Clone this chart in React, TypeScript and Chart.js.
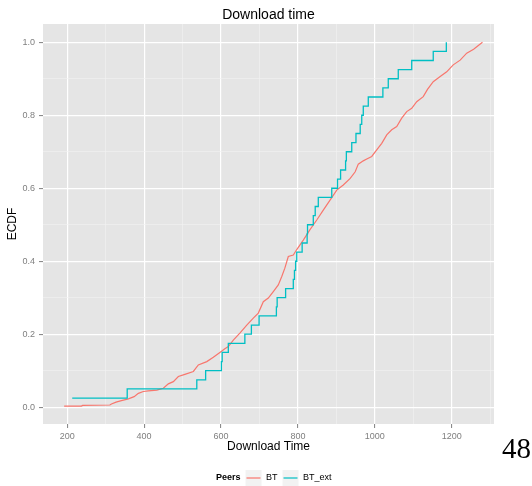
import React, { useEffect, useRef } from "react";
import { Chart, registerables } from "chart.js";

Chart.register(...registerables);

const TITLE = "Download time";
const X_TITLE = "Download Time";
const Y_TITLE = "ECDF";
const LEGEND_TITLE = "Peers";
const SERIES_NAMES = ["BT", "BT_ext"];
const SERIES_COLORS = ["#F8766D", "#00BFC4"];
const PAGE_NUMBER = "48";

const X_TICKS = [200, 300, 400, 500, 600, 700, 800, 900, 1000, 1100, 1200, 1300];
const Y_TICKS = [0, 0.1, 0.2, 0.3, 0.4, 0.5, 0.6, 0.7, 0.8, 0.9, 1.0];

// BT
const BT_TIME = [
  192, 237, 240, 311, 315, 327, 341, 359, 374, 385, 398, 411, 433, 450, 463, 476,
  489, 506, 528, 541, 563, 580, 597, 610, 619, 632, 649, 667, 684, 697, 710, 723,
  736, 749, 758, 766, 775, 788, 797, 814, 831, 849, 866, 884, 901, 918, 936, 949,
  957, 970, 979, 992, 1005, 1018, 1031, 1044, 1057, 1070, 1083, 1096, 1109, 1126,
  1137, 1152, 1170, 1187, 1196, 1204, 1222, 1239, 1257, 1280,
];
const BT_ECDF = [
  0.003, 0.003, 0.005, 0.006, 0.009, 0.014, 0.018, 0.023, 0.029, 0.038, 0.043, 0.045,
  0.047, 0.052, 0.064, 0.07, 0.084, 0.09, 0.098, 0.116, 0.125, 0.137, 0.15, 0.16,
  0.166, 0.184, 0.203, 0.225, 0.244, 0.258, 0.289, 0.299, 0.317, 0.335, 0.358, 0.381,
  0.413, 0.417, 0.432, 0.458, 0.486, 0.513, 0.54, 0.568, 0.595, 0.609, 0.627, 0.645,
  0.666, 0.675, 0.68, 0.687, 0.705, 0.723, 0.746, 0.76, 0.769, 0.792, 0.81, 0.819,
  0.837, 0.851, 0.871, 0.892, 0.906, 0.919, 0.929, 0.938, 0.951, 0.97, 0.981, 1.0,
];

// BT_ext (40 observations)
const EXT_TIME = [
  213, 356, 537, 560, 601, 603, 619, 662, 679, 699, 744, 746, 768, 788, 791, 794,
  797, 811, 824, 825, 840, 845, 853, 888, 903, 911, 924, 926, 940, 951, 962, 966,
  970, 983, 1021, 1035, 1061, 1096, 1152, 1186,
];
const EXT_ECDF = [
  0.025, 0.05, 0.075, 0.1, 0.125, 0.15, 0.175, 0.2, 0.225, 0.25, 0.275, 0.3, 0.325,
  0.35, 0.375, 0.4, 0.425, 0.45, 0.475, 0.5, 0.525, 0.55, 0.575, 0.6, 0.625, 0.65,
  0.675, 0.7, 0.725, 0.75, 0.775, 0.8, 0.825, 0.85, 0.875, 0.9, 0.925, 0.95, 0.975, 1.0,
];

const FONT = "'Liberation Sans', Arial, Helvetica, sans-serif";

const decorPlugin = {
  id: "decor",
  beforeDraw(chart: any) {
    const { ctx, chartArea: a } = chart;
    ctx.save();
    ctx.fillStyle = "#E5E5E5";
    ctx.fillRect(a.left, a.top, a.right - a.left, a.bottom - a.top);
    ctx.restore();
  },
  afterDraw(chart: any) {
    const { ctx, chartArea: a } = chart;
    const cx = (a.left + a.right) / 2;
    const cy = (a.top + a.bottom) / 2;
    ctx.save();
    // title
    ctx.fillStyle = "#000";
    ctx.font = `14px ${FONT}`;
    ctx.textAlign = "center";
    ctx.textBaseline = "middle";
    ctx.fillText(TITLE, cx, 15);
    // x title
    ctx.font = `12px ${FONT}`;
    ctx.fillText(X_TITLE, cx, 447);
    // y title
    ctx.save();
    ctx.translate(13, cy);
    ctx.rotate(-Math.PI / 2);
    ctx.fillText(Y_TITLE, 0, 0);
    ctx.restore();
    // legend
    const ly = 478;
    ctx.textAlign = "left";
    ctx.font = `bold 9px ${FONT}`;
    ctx.fillText(LEGEND_TITLE, 216, ly);
    ctx.font = `9px ${FONT}`;
    const keyX = [245, 282];
    const labelX = [266, 303];
    for (let i = 0; i < 2; i++) {
      ctx.fillStyle = "#F2F2F2";
      ctx.fillRect(keyX[i], ly - 8.5, 17, 17);
      ctx.strokeStyle = "#FFFFFF";
      ctx.lineWidth = 1;
      ctx.strokeRect(keyX[i], ly - 8.5, 17, 17);
      ctx.strokeStyle = SERIES_COLORS[i];
      ctx.lineWidth = 1.2;
      ctx.beginPath();
      ctx.moveTo(keyX[i] + 1.5, ly);
      ctx.lineTo(keyX[i] + 15.5, ly);
      ctx.stroke();
      ctx.fillStyle = "#000";
      ctx.fillText(SERIES_NAMES[i], labelX[i], ly);
    }
    // page number
    ctx.font = `29px 'Liberation Serif', 'Times New Roman', serif`;
    ctx.textBaseline = "alphabetic";
    ctx.fillText(PAGE_NUMBER, 502, 458);
    ctx.restore();
  },
};

export default function App() {
  const ref = useRef<HTMLCanvasElement | null>(null);
  useEffect(() => {
    if (!ref.current) return;
    const btData = BT_TIME.map((x, i) => ({ x, y: BT_ECDF[i] }));
    const extData = EXT_TIME.map((x, i) => ({ x, y: EXT_ECDF[i] }));
    const chart = new Chart(ref.current, {
      type: "line",
      data: {
        datasets: [
          {
            label: SERIES_NAMES[0],
            data: btData,
            borderColor: SERIES_COLORS[0],
            borderWidth: 1.2,
            pointRadius: 0,
            tension: 0,
            fill: false,
            order: 2,
          },
          {
            label: SERIES_NAMES[1],
            data: extData,
            borderColor: SERIES_COLORS[1],
            borderWidth: 1.3,
            pointRadius: 0,
            stepped: "before",
            fill: false,
            order: 1,
          },
        ],
      },
      options: {
        animation: false,
        responsive: false,
        devicePixelRatio: 1,
        layout: { padding: { left: 0, right: 38, top: 24, bottom: 0 } },
        plugins: {
          legend: { display: false },
          title: { display: false },
          tooltip: { enabled: false },
        },
        scales: {
          x: {
            type: "linear",
            min: 137,
            max: 1310,
            afterFit(scale: any) {
              scale.height = 62;
            },
            afterBuildTicks(scale: any) {
              scale.ticks = X_TICKS.map((v) => ({ value: v }));
            },
            border: { display: false },
            grid: {
              color: (c: any) =>
                c.tick && c.tick.value % 200 === 0 ? "#FFFFFF" : "#F2F2F2",
              lineWidth: (c: any) => (c.tick && c.tick.value % 200 === 0 ? 1.2 : 0.6),
              tickColor: (c: any) =>
                c.tick && c.tick.value % 200 === 0 ? "#7F7F7F" : "rgba(0,0,0,0)",
              tickWidth: 1,
              tickLength: 4,
              drawTicks: true,
            },
            ticks: {
              autoSkip: false,
              maxRotation: 0,
              padding: 3,
              color: "#7F7F7F",
              font: { family: FONT, size: 9 },
              callback: (v: any) => (Number(v) % 200 === 0 ? String(v) : ""),
            },
          },
          y: {
            type: "linear",
            min: -0.046,
            max: 1.05,
            afterFit(scale: any) {
              scale.width = 43;
            },
            afterBuildTicks(scale: any) {
              scale.ticks = Y_TICKS.map((v) => ({ value: v }));
            },
            border: { display: false },
            grid: {
              color: (c: any) =>
                c.tick && Math.round(c.tick.value * 10) % 2 === 0 ? "#FFFFFF" : "#F2F2F2",
              lineWidth: (c: any) =>
                c.tick && Math.round(c.tick.value * 10) % 2 === 0 ? 1.2 : 0.6,
              tickColor: (c: any) =>
                c.tick && Math.round(c.tick.value * 10) % 2 === 0
                  ? "#7F7F7F"
                  : "rgba(0,0,0,0)",
              tickWidth: 1,
              tickLength: 4,
              drawTicks: true,
            },
            ticks: {
              autoSkip: false,
              padding: 4,
              color: "#7F7F7F",
              font: { family: FONT, size: 9 },
              callback: (v: any) =>
                Math.round(Number(v) * 10) % 2 === 0 ? Number(v).toFixed(1) : "",
            },
          },
        },
      } as any,
      plugins: [decorPlugin],
    });
    return () => chart.destroy();
  }, []);
  return (
    <div style={{ position: "fixed", left: 0, top: 0, width: 532, height: 486, background: "#fff" }}>
      <canvas ref={ref} width={532} height={486} style={{ display: "block" }} />
    </div>
  );
}
